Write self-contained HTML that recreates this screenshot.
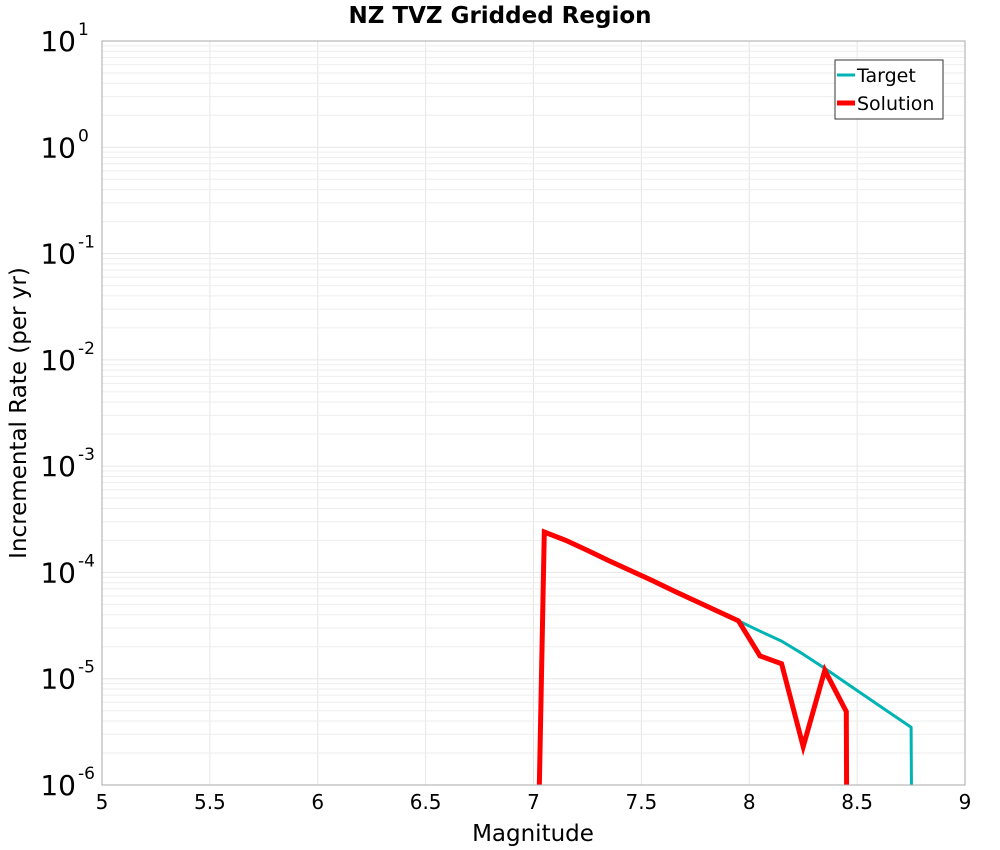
<!DOCTYPE html>
<html><head><meta charset="utf-8"><style>
html,body{margin:0;padding:0;background:#fff;overflow:hidden;width:1000px;height:850px}
svg{display:block}
</style></head><body>
<svg id="chart" width="1000" height="850" xmlns="http://www.w3.org/2000/svg" font-family="DejaVu Sans, Liberation Sans, sans-serif">
<rect width="1000" height="850" fill="#fff"/>
<text x="500" y="23" text-anchor="middle" font-size="23" font-weight="bold">NZ TVZ Gridded Region</text>
<g id="grid"></g>
<g id="ticks"></g>
<g id="series"></g>
<rect x="102" y="41" width="863" height="744" fill="none" stroke="#aaa" stroke-width="1"/>
<text x="533" y="841" text-anchor="middle" font-size="23">Magnitude</text>
<text transform="translate(26,413) rotate(-90)" text-anchor="middle" font-size="23">Incremental Rate (per yr)</text>
<g>
<rect x="835" y="60" width="108" height="59" fill="#fff" stroke="#333" stroke-width="1"/>
<line x1="837" y1="75" x2="855" y2="75" stroke="#00b4b4" stroke-width="3"/>
<text x="857" y="82" font-size="19">Target</text>
<line x1="837" y1="103" x2="855" y2="103" stroke="#f00" stroke-width="5"/>
<text x="857" y="110" font-size="19">Solution</text>
</g>
</svg>
<script>
const xTicks=[5,5.5,6,6.5,7,7.5,8,8.5,9];
const xTickLabels=["5","5.5","6","6.5","7","7.5","8","8.5","9"];
const yDecades=[1,0,-1,-2,-3,-4,-5,-6];
const targetMags=[6.95,7.05,7.15,7.25,7.35,7.45,7.55,7.65,7.75,7.85,7.95,8.05,8.15,8.25,8.35,8.45,8.55,8.65,8.75,8.85];
const targetRates=[1e-14,2.4e-4,2.0e-4,1.61e-4,1.29e-4,1.04e-4,8.4e-5,6.7e-5,5.4e-5,4.35e-5,3.5e-5,2.8e-5,2.26e-5,1.7e-5,1.25e-5,9.1e-6,6.6e-6,4.8e-6,3.5e-6,1e-40];
const solutionMags=[6.95,7.05,7.15,7.25,7.35,7.45,7.55,7.65,7.75,7.85,7.95,8.05,8.15,8.25,8.35,8.45,8.55];
const solutionRates=[1e-14,2.4e-4,2.0e-4,1.61e-4,1.29e-4,1.04e-4,8.4e-5,6.7e-5,5.4e-5,4.35e-5,3.5e-5,1.64e-5,1.38e-5,2.3e-6,1.2e-5,4.9e-6,1e-60];
const L=102,R=965,T=41,B=785,xMin=5,xMax=9,yTop=1,yBot=-6;
const X=v=>L+(v-xMin)/(xMax-xMin)*(R-L);
const Y=v=>T+(yTop-Math.log10(v))/(yTop-yBot)*(B-T);
const NS="http://www.w3.org/2000/svg";
function mk(tag,attrs,parent){const e=document.createElementNS(NS,tag);for(const k in attrs)e.setAttribute(k,attrs[k]);parent.appendChild(e);return e;}
const grid=document.getElementById('grid'),ticks=document.getElementById('ticks'),series=document.getElementById('series');
xTicks.forEach((t,i)=>{
 const l=mk('line',{x1:X(t),x2:X(t),y1:T,y2:B,stroke:'#e6e6e6','stroke-width':1},grid);
 
 
 const tx=mk('text',{x:X(t),y:809,'text-anchor':'middle','font-size':20},ticks);
 
 
 tx.textContent=xTickLabels[i];
});
yDecades.forEach(d=>{
 const yy=Y(Math.pow(10,d));
 const l=mk('line',{x1:L,x2:R,y1:yy,y2:yy,stroke:'#e6e6e6','stroke-width':1},grid);
 
 
 if(d>yBot){for(let m=2;m<=9;m++){const v=m*Math.pow(10,d-1);const g=mk('line',{x1:L,x2:R,y1:Y(v),y2:Y(v),stroke:'#eeeeee','stroke-width':1},grid);
  
  }}
 const tx=mk('text',{x:76,y:yy+10,'text-anchor':'end','font-size':28},ticks);
 
 
 tx.textContent='10';
 const sp=mk('text',{x:78,y:yy-6,'text-anchor':'start','font-size':17},ticks);
 
 
 sp.textContent=String(d);
});
const clip=mk('clipPath',{id:'pc'},document.getElementById('chart'));
mk('rect',{x:L,y:T,width:R-L,height:B-T},clip);
function path(xs,ys){return xs.map((m,i)=>(i?'L':'M')+X(m).toFixed(1)+','+Y(ys[i]).toFixed(1)).join('');}
const tp=mk('path',{d:path(targetMags,targetRates),fill:'none',stroke:'#00b4b4','stroke-width':3,'clip-path':'url(#pc)','stroke-linejoin':'round'},series);


const sp2=mk('path',{d:path(solutionMags,solutionRates),fill:'none',stroke:'#f00','stroke-width':5,'clip-path':'url(#pc)','stroke-linejoin':'miter'},series);


</script>
</body></html>
